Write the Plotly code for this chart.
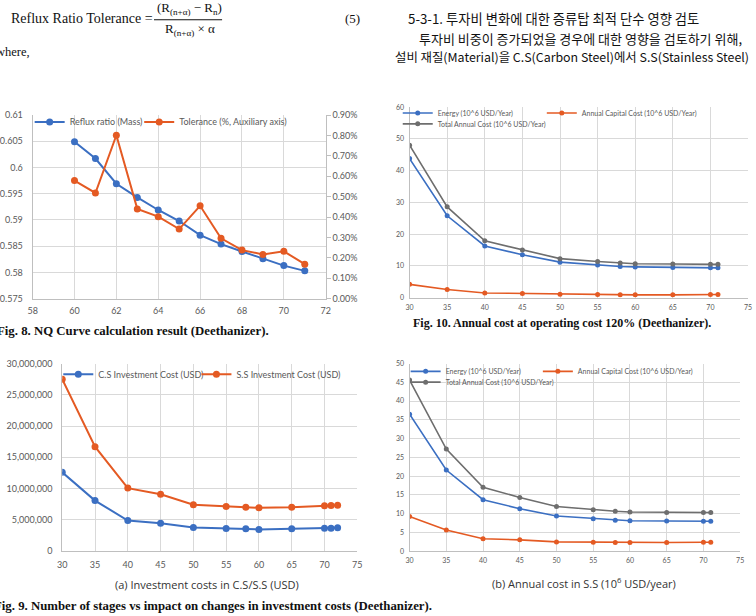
import plotly.graph_objects as go

W, H = 756, 616

# ---------------- data ----------------
# Fig. 8 NQ curve
nq_stages = [60, 61, 62, 63, 64, 65, 66, 67, 68, 69, 70, 71]
reflux_ratio = [0.6049, 0.6017, 0.5969, 0.5943, 0.5919, 0.5898, 0.5871, 0.5854, 0.5840, 0.5826, 0.5813, 0.5803]
tolerance_pct = [0.579, 0.518, 0.801, 0.440, 0.402, 0.341, 0.455, 0.296, 0.238, 0.217, 0.232, 0.169]
nq_yticks = [0.575, 0.58, 0.585, 0.59, 0.595, 0.6, 0.605, 0.61]
nq_yticktext = ["0.575", "0.58", "0.585", "0.59", "0.595", "0.6", "0.605", "0.61"]

# Fig. 10 annual cost at operating cost 120%
f10_stages = [30, 35, 40, 45, 50, 55, 58, 60, 65, 70, 71]
f10_energy = [43.8, 25.8, 16.3, 13.5, 11.2, 10.3, 9.8, 9.7, 9.5, 9.4, 9.4]
f10_capital = [4.2, 2.6, 1.5, 1.3, 1.1, 1.0, 0.9, 0.9, 0.9, 1.0, 1.0]
f10_total = [48.0, 28.6, 17.9, 15.0, 12.3, 11.4, 10.9, 10.7, 10.6, 10.5, 10.5]

# Fig. 9(a) investment costs
f9a_stages = [30, 35, 40, 45, 50, 55, 58, 60, 65, 70, 71, 72]
cs_invest = [12600000, 8080000, 4880000, 4460000, 3780000, 3620000, 3570000, 3460000, 3570000, 3670000, 3670000, 3720000]
ss_invest = [27500000, 16700000, 10070000, 9080000, 7400000, 7140000, 7030000, 6930000, 7030000, 7240000, 7290000, 7350000]

# Fig. 9(b) annual cost in S.S
f9b_stages = [30, 35, 40, 45, 50, 55, 58, 60, 65, 70, 71]
f9b_energy = [36.5, 21.6, 13.7, 11.3, 9.35, 8.65, 8.2, 8.1, 8.0, 7.95, 7.95]
f9b_capital = [9.2, 5.6, 3.3, 3.0, 2.45, 2.35, 2.3, 2.3, 2.3, 2.35, 2.35]
f9b_total = [45.6, 27.2, 17.0, 14.3, 11.9, 11.0, 10.6, 10.4, 10.3, 10.3, 10.3]

# ---------------- style ----------------
BLUE = "#3B6FC2"
ORANGE = "#E45A23"
GRAY = "#6E6E6E"
GRID = "#D9D9D9"
AXL = "#BFBFBF"
TICKC = "#595959"
SANS = "Lato"
SERIF = "Liberation Serif"


def X(px):
    return px / W


def Y(py):
    return 1 - py / H


fig = go.Figure()


def add_line(x, y, name, color, xa, ya, legend, msize, lw):
    fig.add_trace(go.Scatter(
        x=x, y=y, name=name, mode="lines+markers", xaxis=xa, yaxis=ya,
        line=dict(color=color, width=lw), marker=dict(color=color, size=msize),
        legend=legend, showlegend=True))


# Fig 8
add_line(nq_stages, reflux_ratio, "Reflux ratio (Mass)", BLUE, "x", "y", "legend", 7, 2)
add_line(nq_stages, [v / 100 for v in tolerance_pct], "Tolerance (%, Auxiliary axis)", ORANGE, "x", "y2", "legend2", 7, 2)
# Fig 10
add_line(f10_stages, f10_energy, "Energy (10^6 USD/Year)", BLUE, "x2", "y3", "legend3", 5, 1.6)
add_line(f10_stages, f10_capital, "Annual Capital Cost (10^6 USD/Year)", ORANGE, "x2", "y3", "legend4", 5, 1.6)
add_line(f10_stages, f10_total, "Total Annual Cost (10^6 USD/Year)", GRAY, "x2", "y3", "legend5", 5, 1.6)
# Fig 9a
add_line(f9a_stages, cs_invest, "C.S Investment Cost (USD)", BLUE, "x3", "y4", "legend6", 7, 2)
add_line(f9a_stages, ss_invest, "S.S Investment Cost (USD)", ORANGE, "x3", "y4", "legend7", 7, 2)
# Fig 9b
add_line(f9b_stages, f9b_energy, "Energy (10^6 USD/Year)", BLUE, "x4", "y5", "legend8", 5, 1.6)
add_line(f9b_stages, f9b_capital, "Annual Capital Cost (10^6 USD/Year)", ORANGE, "x4", "y5", "legend9", 5, 1.6)
add_line(f9b_stages, f9b_total, "Total Annual Cost (10^6 USD/Year)", GRAY, "x4", "y5", "legend10", 5, 1.6)


def xax(dom, rng, dtick, anchor, fs, so):
    return dict(domain=[X(dom[0]), X(dom[1])], range=rng, dtick=dtick, tick0=rng[0],
                anchor=anchor, showgrid=True, gridcolor=GRID, gridwidth=1,
                showline=True, linecolor=AXL, linewidth=1, zeroline=False,
                ticks="", ticklabelstandoff=so,
                tickfont=dict(family=SANS, size=fs, color=TICKC), fixedrange=True)


def yax(dom, rng, anchor, fs, so, **kw):
    d = dict(domain=[Y(dom[1]), Y(dom[0])], range=rng, anchor=anchor, showgrid=True,
             gridcolor=GRID, gridwidth=1, showline=True, linecolor=AXL, linewidth=1,
             zeroline=False, ticks="", ticklabelstandoff=so,
             tickfont=dict(family=SANS, size=fs, color=TICKC), fixedrange=True)
    d.update(kw)
    return d


layout = dict(
    width=W, height=H, margin=dict(l=0, r=0, t=0, b=0),
    paper_bgcolor="white", plot_bgcolor="white", showlegend=True,
    xaxis=xax((28, 325), [58, 72], 2, "y", 9, 4),
    yaxis=yax((111, 298), [0.575, 0.61], "x", 9, 7, tickvals=nq_yticks, ticktext=nq_yticktext),
    yaxis2=dict(overlaying="y", side="right", anchor="x", range=[0, 0.009], dtick=0.001, tick0=0,
                tickformat=".2%", showgrid=False, showline=True, linecolor=AXL, linewidth=1,
                ticks="outside", ticklen=4, tickcolor=AXL, zeroline=False,
                tickfont=dict(family=SANS, size=9, color=TICKC), fixedrange=True),
    xaxis2=xax((410, 753), [30, 75], 5, "y3", 7, 3),
    yaxis3=yax((103, 297), [0, 60], "x2", 7, 3, dtick=10, tick0=0),
    xaxis3=xax((58, 357), [30, 75], 5, "y4", 9, 5),
    yaxis4=yax((364, 555), [0, 30000000], "x3", 9, 7, dtick=5000000, tick0=0, tickformat=",d"),
    xaxis4=xax((410, 745), [30, 75], 5, "y5", 7, 3),
    yaxis5=yax((364, 555), [0, 50], "x4", 7, 3, dtick=5, tick0=0),
)


def leg(text_x, cy, fs):
    return dict(x=X(text_x - 44), y=Y(cy), xanchor="left", yanchor="middle",
                orientation="h", bgcolor="rgba(0,0,0,0)", borderwidth=0,
                font=dict(family=SANS, size=fs, color=TICKC), itemclick=False,
                itemdoubleclick=False)


layout["legend"] = leg(69, 118, 9)
layout["legend2"] = leg(180, 118, 9)
layout["legend3"] = leg(442, 109, 7)
layout["legend4"] = leg(588, 109, 7)
layout["legend5"] = leg(442, 120, 7)
layout["legend6"] = leg(98, 375, 9)
layout["legend7"] = leg(238, 375, 9)
layout["legend8"] = leg(450, 372, 7)
layout["legend9"] = leg(584, 372, 7)
layout["legend10"] = leg(450, 383, 7)

fig.update_layout(**layout)


def txt(text, x, y, size, family=SERIF, xanchor="left", color="#111111", bold=False):
    if bold:
        text = "<b>" + text + "</b>"
    fig.add_annotation(text=text, x=X(x), y=Y(y), xref="paper", yref="paper",
                       xanchor=xanchor, yanchor="middle", showarrow=False,
                       font=dict(family=family, size=size, color=color))


# formula (5)
txt("Reflux Ratio Tolerance =", 4, 13, 14)
txt("(R<sub>(n+α)</sub> − R<sub>n</sub>)", 152, 3, 13)
txt("R<sub>(n+α)</sub> × α", 160, 24, 13)
fig.add_shape(type="line", xref="paper", yref="paper", x0=X(151), x1=X(220), y0=Y(14), y1=Y(14),
              line=dict(color="#111111", width=1))
txt("(5)", 343, 13, 13)
txt("where,", 27, 47, 12.5, xanchor="right")

# Korean text
KR = "Noto Sans CJK KR"
txt("5-3-1. 투자비 변화에 대한 증류탑 최적 단수 영향 검토", 406, 13, 13.3, family=KR)
txt("투자비 비중이 증가되었을 경우에 대한 영향을 검토하기 위해,", 418, 33, 13, family=KR)
txt("설비 재질(Material)을 C.S(Carbon Steel)에서 S.S(Stainless Steel)", 393, 52, 12.4, family=KR)

# captions
txt("Fig. 8. NQ Curve calculation result (Deethanizer).", 270, 331, 12.8, bold=True, xanchor="right")
txt("Fig. 10. Annual cost at operating cost 120% (Deethanizer).", 411, 323, 12, bold=True)
txt("(a) Investment costs in C.S/S.S (USD)", 205, 589, 11, family="Open Sans", xanchor="center", color="#333333")
txt("(b) Annual cost in S.S (10<sup>6</sup> USD/year)", 587, 587, 11, family="Open Sans", xanchor="center", color="#333333")
txt("Fig. 9. Number of stages vs impact on changes in investment costs (Deethanizer).", 435, 611, 12.8, bold=True, xanchor="right")

fig.write_html("out.html")
